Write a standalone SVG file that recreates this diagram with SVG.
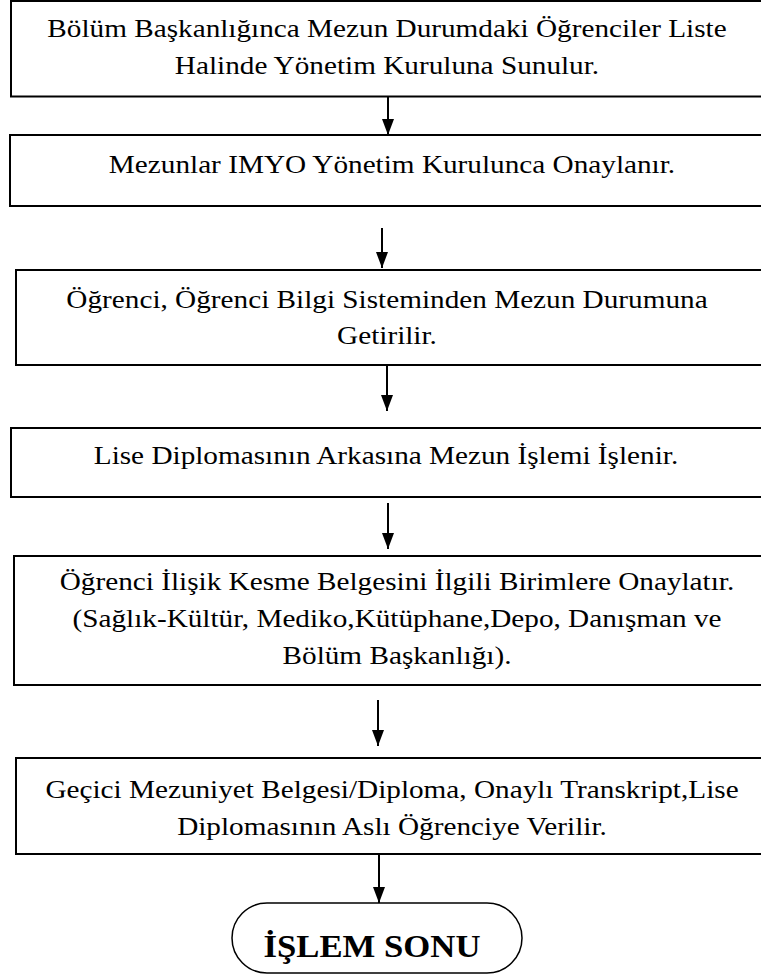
<svg xmlns="http://www.w3.org/2000/svg" width="761" height="978" viewBox="0 0 761 978">
  <style>
    .box { fill: #ffffff; stroke: #000000; stroke-width: 2; }
    .term { fill: #ffffff; stroke: #000000; stroke-width: 1.5; }
    .conn { stroke: #000000; stroke-width: 2; fill: none; marker-end: url(#arrow); }
  </style>
  <defs>
    <marker id="arrow" viewBox="0 0 16 12" refX="16" refY="6" markerWidth="16" markerHeight="12" markerUnits="userSpaceOnUse" orient="auto">
      <path d="M0,0 L16,6 L0,12 Z" fill="#000000"/>
    </marker>
  </defs>
  <rect width="761" height="978" fill="#ffffff"/>

  <g id="connectors">
    <line class="conn" x1="388" y1="97" x2="388" y2="135"/>
    <line class="conn" x1="382" y1="228" x2="382" y2="268"/>
    <line class="conn" x1="387" y1="366" x2="387" y2="411"/>
    <line class="conn" x1="388" y1="503" x2="388" y2="549"/>
    <line class="conn" x1="378" y1="700" x2="378" y2="746"/>
    <line class="conn" x1="379" y1="855" x2="379" y2="903"/>
  </g>

  <!-- labels are set in a slightly widened Times-metric serif -->
  <g font-family="'Liberation Serif', 'Times New Roman', serif" font-size="25" fill="#000000" text-anchor="middle">
    <g id="step1">
      <rect class="box" x="11" y="1" width="770" height="95.5"/>
      <text transform="translate(387,37) scale(1.17,1)">Bölüm Başkanlığınca Mezun Durumdaki Öğrenciler Liste</text>
      <text transform="translate(387,74) scale(1.17,1)">Halinde Yönetim Kuruluna Sunulur.</text>
    </g>

    <g id="step2">
      <rect class="box" x="10" y="135" width="770" height="71"/>
      <text transform="translate(392,173) scale(1.17,1)">Mezunlar IMYO Yönetim Kurulunca Onaylanır.</text>
    </g>

    <g id="step3">
      <rect class="box" x="16" y="270" width="770" height="95"/>
      <text transform="translate(387,308) scale(1.17,1)">Öğrenci, Öğrenci Bilgi Sisteminden Mezun Durumuna</text>
      <text transform="translate(387,344) scale(1.17,1)">Getirilir.</text>
    </g>

    <g id="step4">
      <rect class="box" x="11" y="428" width="770" height="69"/>
      <text transform="translate(386,464) scale(1.17,1)">Lise Diplomasının Arkasına Mezun İşlemi İşlenir.</text>
    </g>

    <g id="step5">
      <rect class="box" x="14" y="556" width="770" height="129"/>
      <text transform="translate(397,590) scale(1.17,1)">Öğrenci İlişik Kesme Belgesini İlgili Birimlere Onaylatır.</text>
      <text transform="translate(397,627) scale(1.17,1)">(Sağlık-Kültür, Mediko,Kütüphane,Depo, Danışman ve</text>
      <text transform="translate(397,664) scale(1.17,1)">Bölüm Başkanlığı).</text>
    </g>

    <g id="step6">
      <rect class="box" x="16" y="758" width="770" height="96"/>
      <text transform="translate(392,798) scale(1.17,1)">Geçici Mezuniyet Belgesi/Diploma, Onaylı Transkript,Lise</text>
      <text transform="translate(392,835) scale(1.17,1)">Diplomasının Aslı Öğrenciye Verilir.</text>
    </g>

    <g id="end">
      <rect class="term" x="232" y="903" width="290" height="70" rx="35" ry="35"/>
      <text transform="translate(372,957) scale(1.12,1)" font-size="31" font-weight="bold">İŞLEM SONU</text>
    </g>
  </g>
</svg>
